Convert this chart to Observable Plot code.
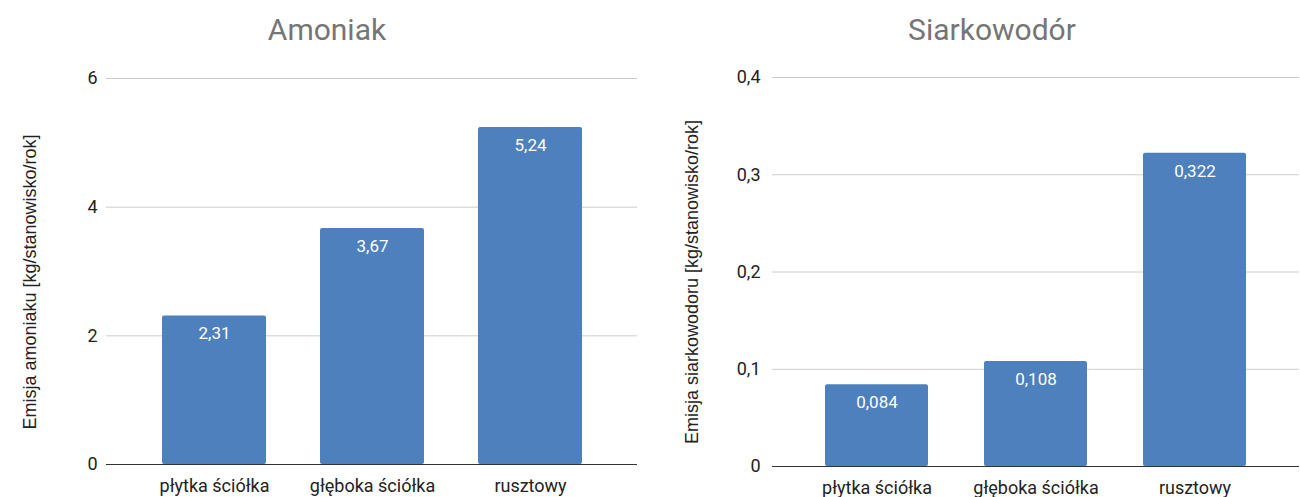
<!DOCTYPE html>
<html>
<head>
<meta charset="utf-8">
<script src="https://cdn.jsdelivr.net/npm/d3@7"></script>
<script src="https://cdn.jsdelivr.net/npm/@observablehq/plot@0.6"></script>
<style>
  html, body { margin: 0; padding: 0; background: #fff; }
  #wrap { display: flex; width: 1300px; height: 497px; overflow: hidden; }
  .panel { width: 650px; position: relative; }
  .title { height: 60px; line-height: 60px; font-family: Roboto, sans-serif; font-size: 30px; color: #757575; text-align: center; box-sizing: border-box; }
  .ylabel { position: absolute; white-space: nowrap; font-family: 'Liberation Sans', Arial, sans-serif; font-size: 18px; color: #222; transform: translate(-50%, -50%) rotate(-90deg); line-height: 1; }
  svg { display: block; overflow: visible; }
</style>
</head>
<body>
<div id="wrap">
  <div class="panel" id="left"><div class="title" style="padding-left:4px">Amoniak</div></div>
  <div class="panel" id="right"><div class="title" style="padding-left:34px">Siarkowodór</div></div>
</div>
<script>
const categories = ["płytka ściółka", "głęboka ściółka", "rusztowy"];
const amoniak = [2.31, 3.67, 5.24];
const siarkowodor = [0.084, 0.108, 0.322];
const amoniakTicks = [0, 2, 4, 6];
const siarkowodorTicks = [0, 0.1, 0.2, 0.3, 0.4];
const yLabelAmoniak = "Emisja amoniaku [kg/stanowisko/rok]";
const yLabelSiarkowodor = "Emisja siarkowodoru [kg/stanowisko/rok]";

const fmt = v => String(v).replace(".", ",");

function chart(o) {
  const data = categories.map((c, i) => ({c, v: o.values[i]}));
  return Plot.plot({
    width: 650,
    height: 437,
    marginLeft: o.marginLeft,
    marginRight: o.marginRight,
    marginTop: o.marginTop,
    marginBottom: o.marginBottom,
    style: {fontFamily: "Roboto, sans-serif", fontSize: "18px", color: "#222", background: "transparent", overflow: "visible"},
    x: {domain: categories, paddingInner: o.paddingInner, paddingOuter: o.paddingOuter, label: null},
    y: {domain: [0, o.ticks[o.ticks.length - 1]], label: null},
    marks: [
      Plot.gridY(o.ticks, {stroke: "#cccccc", strokeOpacity: 1}),
      Plot.axisY(o.ticks, {tickSize: 0, tickPadding: o.tickPadding, tickFormat: fmt, label: null, fill: "#222"}),
      Plot.axisX({tickSize: 0, tickPadding: 15, label: null, fill: "#222"}),
      Plot.barY(data, {x: "c", y: "v", fill: "#4e80bd", rx: 2}),
      Plot.ruleY([0], {stroke: "#333", strokeWidth: 1.2}),
      Plot.text(data, {x: "c", y: "v", text: d => fmt(d.v), fill: "white", dy: 18, fontSize: 17})
    ]
  });
}

function addLabel(id, text, x, y) {
  const d = document.createElement("div");
  d.className = "ylabel";
  d.style.left = x + "px";
  d.style.top = y + "px";
  d.textContent = text;
  document.getElementById(id).appendChild(d);
}

document.getElementById("left").appendChild(chart({
  values: amoniak, ticks: amoniakTicks,
  marginLeft: 106, marginRight: 13, marginTop: 18, marginBottom: 33,
  paddingInner: 0.344, paddingOuter: 0.347, tickPadding: 9
}));
document.getElementById("right").appendChild(chart({
  values: siarkowodor, ticks: siarkowodorTicks,
  marginLeft: 122, marginRight: 1, marginTop: 17, marginBottom: 31,
  paddingInner: 0.35, paddingOuter: 0.325, tickPadding: 12
}));
addLabel("left", yLabelAmoniak, 30, 282);
addLabel("right", yLabelSiarkowodor, 42, 282);
</script>
</body>
</html>
